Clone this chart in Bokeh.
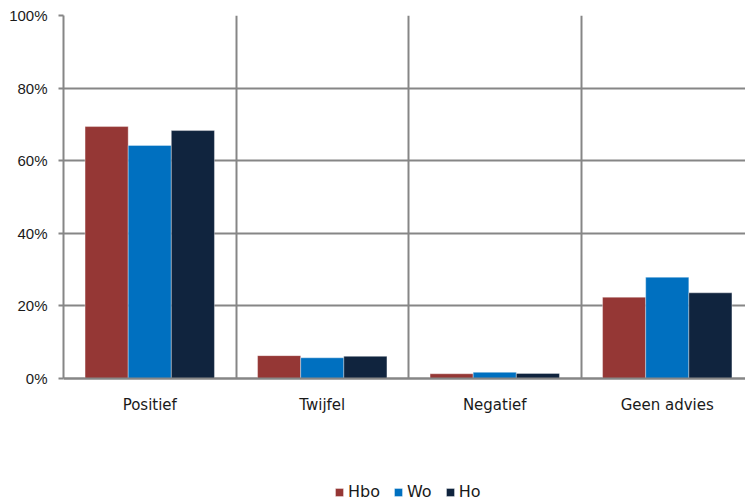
from bokeh.plotting import figure
from bokeh.models import (ColumnDataSource, Range1d, FixedTicker, NumeralTickFormatter,
                          Legend, LegendItem)
from bokeh.transform import dodge
from bokeh.embed import file_html
from bokeh.resources import INLINE

categories = ["Positief", "Twijfel", "Negatief", "Geen advies"]
series = ["Hbo", "Wo", "Ho"]
hbo = [0.694, 0.063, 0.013, 0.224]
wo = [0.642, 0.057, 0.017, 0.279]
ho = [0.683, 0.061, 0.014, 0.236]
colors = ["#953735", "#0070C0", "#10243E"]
y_ticks = [0, 0.2, 0.4, 0.6, 0.8, 1.0]

n = len(categories)
centers = [i + 0.5 for i in range(n)]
src = ColumnDataSource(dict(x=centers, cat=categories, Hbo=hbo, Wo=wo, Ho=ho))

GRID = "#868686"
PX_PER_UNIT = 363.0          # 0% -> 100% spans 363 px
FRAME_H = 487
y_start = -(FRAME_H - 363) / PX_PER_UNIT

p = figure(frame_width=682, frame_height=FRAME_H, output_backend="svg", toolbar_location=None,
           x_range=Range1d(0, 682 / 172.5), y_range=Range1d(y_start, 1),
           min_border_left=63, min_border_top=15, min_border_right=0, min_border_bottom=0)
p.outline_line_color = None
p.background_fill_color = "white"
p.border_fill_color = "white"

renderers = []
offsets = [-0.25, 0.0, 0.25]
for s, off, c in zip(series, offsets, colors):
    r = p.vbar(x=dodge("x", off), top=s, width=0.25, source=src, fill_color=c,
               line_color="white", line_alpha=0.35, line_width=1)
    renderers.append(r)

# grids
p.ygrid.ticker = FixedTicker(ticks=y_ticks)
p.ygrid.grid_line_color = GRID
p.ygrid.grid_line_width = 2
p.xgrid.ticker = FixedTicker(ticks=list(range(n + 1)))
p.xgrid.grid_line_color = GRID
p.xgrid.grid_line_width = 2
p.xgrid.cross_bounds = (0, 1)

# y axis
p.yaxis.ticker = FixedTicker(ticks=y_ticks)
p.yaxis.bounds = (0, 1)
p.yaxis.formatter = NumeralTickFormatter(format="0%")
p.yaxis.axis_line_color = GRID
p.yaxis.axis_line_width = 2
p.yaxis.major_tick_line_color = GRID
p.yaxis.major_tick_line_width = 2
p.yaxis.major_tick_out = 5
p.yaxis.major_tick_in = 0
p.yaxis.minor_tick_line_color = None
p.yaxis.major_label_standoff = 11
p.yaxis.major_label_text_font = "Liberation Sans"
p.yaxis.major_label_text_font_size = "15px"
p.yaxis.major_label_text_color = "#1a1a1a"

# x axis, pinned at 0%
p.xaxis.fixed_location = 0
p.xaxis.ticker = FixedTicker(ticks=centers)
p.xaxis.major_label_overrides = {c: cat for c, cat in zip(centers, categories)}
p.xaxis.axis_line_color = GRID
p.xaxis.axis_line_width = 2
p.xaxis.major_tick_line_color = None
p.xaxis.minor_tick_line_color = None
p.xaxis.major_label_standoff = 11
p.xaxis.major_label_text_font = "DejaVu Sans"
p.xaxis.major_label_text_font_size = "15px"
p.xaxis.major_label_text_color = "#1a1a1a"

legend = Legend(items=[LegendItem(label=s, renderers=[r]) for s, r in zip(series, renderers)],
                orientation="horizontal", location=(271, 1),
                glyph_width=10, glyph_height=10, label_standoff=4, spacing=13,
                padding=0, margin=0, border_line_color=None, background_fill_alpha=0,
                label_text_font="DejaVu Sans", label_text_font_size="16px",
                label_height=10, label_text_color="#1a1a1a")
p.add_layout(legend, "center")

open("out.html", "w").write(file_html(p, INLINE))
